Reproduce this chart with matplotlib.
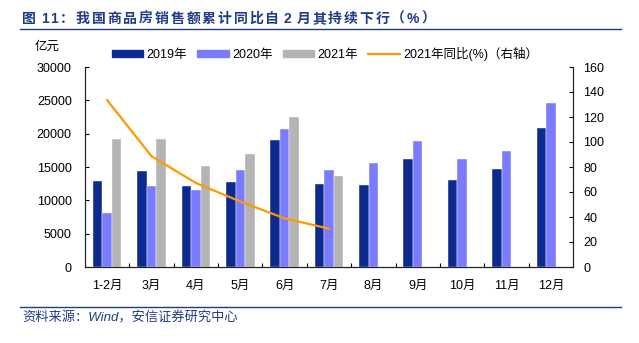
import matplotlib
matplotlib.use("Agg")
import matplotlib.pyplot as plt
import numpy as np
from matplotlib.lines import Line2D

plt.rcParams['font.family'] = ['Liberation Sans', 'Noto Sans CJK SC', 'DejaVu Sans']
plt.rcParams['axes.unicode_minus'] = False

months = ["1-2月", "3月", "4月", "5月", "6月", "7月", "8月", "9月", "10月", "11月", "12月"]
sales_2019 = [12900, 14350, 12100, 12700, 19050, 12500, 12300, 16150, 13050, 14650, 20850]
sales_2020 = [8100, 12100, 11600, 14500, 20650, 14500, 15600, 18850, 16150, 17400, 24650]
sales_2021 = [19200, 19200, 15200, 17000, 22500, 13600, np.nan, np.nan, np.nan, np.nan, np.nan]
yoy_2021 = [133.4, 88.6, 67.2, 52.4, 38.9, 30.7, np.nan, np.nan, np.nan, np.nan, np.nan]

c2019 = "#0D2A8F"
c2020 = "#7B7BFF"
c2021 = "#B4B4B4"
cline = "#FF9900"
title_blue = "#1F3C88"

W, H = 639, 343
fig = plt.figure(figsize=(W / 100, H / 100), dpi=100)


def fx(px):
    return px / W


def fy(py):
    return 1 - py / H


ax = fig.add_axes([fx(85), fy(267), (573 - 85) / W, 200 / H])
ax2 = ax.twinx()

x = np.arange(len(months))
w = 0.215
ax.bar(x - w, sales_2019, w, color=c2019, edgecolor="white", linewidth=0.3, zorder=2)
ax.bar(x, sales_2020, w, color=c2020, edgecolor="white", linewidth=0.3, zorder=2)
ax.bar(x + w, sales_2021, w, color=c2021, edgecolor="white", linewidth=0.3, zorder=2)
ax2.plot(x, yoy_2021, color=cline, linewidth=1.6, zorder=3)

ax.set_xlim(-0.5, len(months) - 0.5)
ax.set_ylim(0, 30000)
ax.set_yticks(np.arange(0, 30001, 5000))
ax2.set_ylim(0, 160)
ax2.set_yticks(np.arange(0, 161, 20))

ax.set_xticks(x)
ax.set_xticklabels(months)
ax.set_xticks(np.arange(0.5, len(months) - 1, 1), minor=True)
ax.tick_params(axis='x', which='major', length=0, pad=9, labelsize=9)
ax.tick_params(axis='x', which='minor', length=3, direction='in', width=0.8)
ax.tick_params(axis='y', direction='in', length=3, width=0.8, labelsize=9, pad=9.5)
ax2.tick_params(axis='y', direction='in', length=3, width=0.8, labelsize=9, pad=7.5)

for a in (ax, ax2):
    a.spines['top'].set_visible(False)
    for s in ('left', 'right', 'bottom'):
        a.spines[s].set_linewidth(0.8)
        a.spines[s].set_color("#222222")
ax2.set_zorder(ax.get_zorder() + 1)
ax2.patch.set_visible(False)

fig.text(fx(35), fy(47), "亿元", fontsize=9, va='center', ha='left')

handles = [
    plt.Rectangle((0, 0), 1, 1, color=c2019),
    plt.Rectangle((0, 0), 1, 1, color=c2020),
    plt.Rectangle((0, 0), 1, 1, color=c2021),
    Line2D([0], [0], color=cline, linewidth=1.6),
]
labels = ["2019年", "2020年", "2021年", "2021年同比(%)（右轴）"]
fig.legend(handles, labels, loc='center', bbox_to_anchor=(fx(325), fy(54)), ncol=4,
           frameon=False, fontsize=9, handlelength=2.5, handleheight=0.4,
           columnspacing=0.8, handletextpad=0.3)


def spaced_title(text, x0, x1, y, space_px=3.0, **kw):
    """Draw text one character at a time, spread evenly between x0 and x1 (pixels)."""
    renderer = fig.canvas.get_renderer()
    widths = []
    for ch in text:
        if ch == ' ':
            widths.append(None)
            continue
        t = fig.text(0, 0, ch, **kw)
        widths.append(t.get_window_extent(renderer).width)
        t.remove()
    glyphs = [wd for wd in widths if wd is not None]
    n_space = len(widths) - len(glyphs)
    gap = (x1 - x0 - sum(glyphs) - n_space * space_px) / (len(glyphs) - 1)
    xc = x0
    for ch, wd in zip(text, widths):
        if wd is None:
            xc += space_px
            continue
        fig.text(fx(xc), fy(y), ch, ha='left', va='center', **kw)
        xc += wd + gap


spaced_title("图 11：我国商品房销售额累计同比自 2 月其持续下行（%）", 22, 435, 19,
             fontsize=10, fontweight='bold', color=title_blue)

# rules under the header and above the source note
fig.add_artist(Line2D([fx(20), fx(621)], [fy(29), fy(29)], color=title_blue, linewidth=1.0))
fig.add_artist(Line2D([fx(20), fx(621)], [fy(306.5), fy(306.5)], color=title_blue, linewidth=1.0))
fig.text(fx(22), fy(318), "资料来源：Wind，安信证券研究中心", fontsize=9.5, style='italic',
         color=title_blue, va='center', ha='left')

fig.savefig("out.png", dpi=100)
